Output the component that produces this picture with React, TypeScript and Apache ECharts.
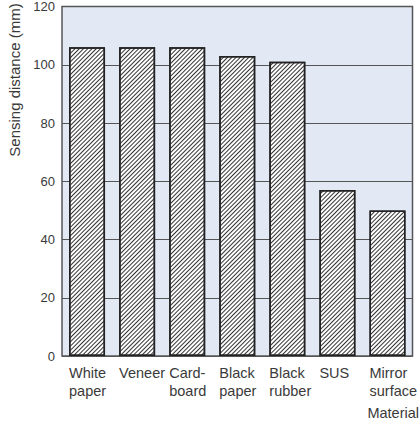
import React, { useEffect, useRef } from "react";
import * as echarts from "echarts";

const categories = [
  "White\npaper",
  "Veneer",
  "Card-\nboard",
  "Black\npaper",
  "Black\nrubber",
  "SUS",
  "Mirror\nsurface",
];
const distances = [106, 106, 106, 103, 101, 57, 50];
const yTicks = { min: 0, max: 120, interval: 20 };
const yAxisTitle = "Sensing distance (mm)";
const xAxisTitle = "Material";

export default function App() {
  const ref = useRef<HTMLDivElement>(null);
  useEffect(() => {
    if (!ref.current) return;
    const chart = echarts.init(ref.current, null, { renderer: "svg" });
    const font = "'Liberation Sans', Arial, sans-serif";
    chart.setOption({
      animation: false,
      grid: {
        left: 62,
        right: 7,
        top: 5,
        bottom: 69,
        show: true,
        backgroundColor: "#e2e9f5",
        borderColor: "#555",
        borderWidth: 1.5,
      },
      xAxis: {
        type: "category",
        data: categories,
        axisLine: { show: false },
        axisTick: { show: false },
        axisLabel: {
          interval: 0,
          align: "left",
          padding: [0, 0, 0, -18],
          margin: 8,
          lineHeight: 18,
          fontSize: 14.5,
          color: "#3a3a3a",
          fontFamily: font,
        },
      },
      yAxis: {
        type: "value",
        min: yTicks.min,
        max: yTicks.max,
        interval: yTicks.interval,
        axisLine: { show: false },
        axisTick: { show: false },
        axisLabel: { fontSize: 13, color: "#3a3a3a", margin: 7, fontFamily: font },
        splitLine: { show: true, lineStyle: { color: "#555", width: 1 } },
      },
      series: [
        {
          type: "bar",
          data: distances,
          barWidth: 36,
          itemStyle: {
            color: "#ffffff",
            borderColor: "#222",
            borderWidth: 1.5,
            decal: {
              symbol: "rect",
              symbolSize: 1,
              rotation: -Math.PI / 4,
              dashArrayX: [1, 0],
              dashArrayY: [0.8, 2],
              color: "#333",
            },
          },
        },
      ],
      graphic: [
        {
          type: "text",
          x: 14,
          y: 80,
          rotation: Math.PI / 2,
          style: {
            text: yAxisTitle,
            fontSize: 15,
            fill: "#3a3a3a",
            fontFamily: font,
            textAlign: "center",
            textVerticalAlign: "middle",
          },
        },
        {
          type: "text",
          x: 419,
          y: 413,
          style: {
            text: xAxisTitle,
            fontSize: 14.5,
            fill: "#3a3a3a",
            fontFamily: font,
            textAlign: "right",
            textVerticalAlign: "middle",
          },
        },
      ],
    });
    return () => chart.dispose();
  }, []);
  return (
    <div
      ref={ref}
      style={{ position: "absolute", left: 0, top: 0, width: 420, height: 425 }}
    />
  );
}
